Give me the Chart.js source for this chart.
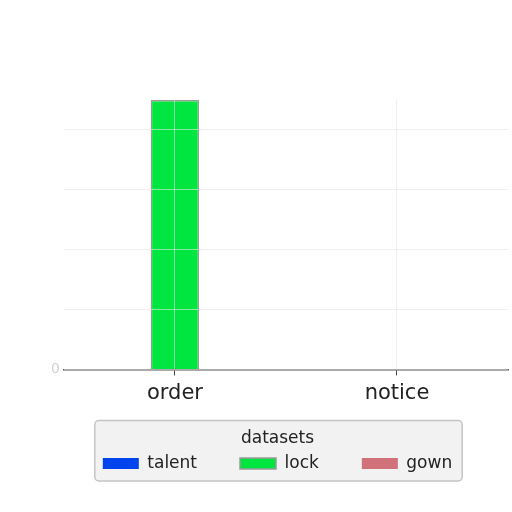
<!DOCTYPE html>
<html>
<head>
<meta charset="utf-8">
<script src="https://cdn.jsdelivr.net/npm/chart.js@4"></script>
<style>
  html, body { margin: 0; padding: 0; background: #fff; }
  #wrap { width: 512px; height: 512px; }
</style>
</head>
<body>
<div id="wrap"><canvas id="myCanvas" width="512" height="512"></canvas></div>
<script>
const categories = ["order", "notice"];
const talentValues = [0, 0];
const lockValues = [45, 0];
const gownValues = [0, 0];
const yTicks = [0, 10, 20, 30, 40];

// draws a rounded box round the legend items
const legendBox = {
  id: "legendBox",
  beforeDraw(chart) {
    const lg = chart.legend;
    if (!lg || !lg.legendHitBoxes.length) return;
    const boxes = lg.legendHitBoxes;
    const left = Math.min(...boxes.map(b => b.left)) - 8;
    const right = Math.max(...boxes.map(b => b.left + b.width)) + 10;
    const top = lg.top + 3;
    const bottom = lg.bottom - 1;
    const ctx = chart.ctx;
    ctx.save();
    ctx.fillStyle = "#f2f2f2";
    ctx.strokeStyle = "#c4c4c4";
    ctx.lineWidth = 1.5;
    ctx.beginPath();
    ctx.roundRect(left, top, right - left, bottom - top, 4);
    ctx.fill();
    ctx.stroke();
    ctx.restore();
  },
};

const ctx = document.getElementById("myCanvas").getContext("2d");

new Chart(ctx, {
  type: "bar",
  data: {
    labels: categories,
    datasets: [
      { label: "talent", data: talentValues, backgroundColor: "#0044ee", borderColor: "#0044ee", borderWidth: 0 },
      { label: "lock", data: lockValues, backgroundColor: "#00e640", borderColor: "#9a9a9a", borderWidth: 1.5 },
      { label: "gown", data: gownValues, backgroundColor: "rgba(200,80,90,0.8)", borderColor: "#c05060", borderWidth: 0 },
    ],
  },
  options: {
    responsive: false,
    animation: false,
    layout: { padding: { top: 100, left: 47, right: 4, bottom: 30 } },
    datasets: { bar: { categoryPercentage: 0.8, barPercentage: 0.82 } },
    scales: {
      x: {
        offset: true,
        grid: { offset: false, color: "rgba(228,228,228,0.6)", z: 1, drawTicks: true, tickLength: 6, tickColor: "#444" },
        border: { display: true, color: "#555", width: 1.5, z: 1 },
        ticks: { color: "#222", font: { family: "DejaVu Sans", size: 21 }, padding: 6 },
        afterFit(axis) {
          axis.height += 5;
        },
      },
      y: {
        min: 0,
        max: 45,
        afterBuildTicks(axis) {
          axis.ticks = yTicks.map(v => ({ value: v }));
        },
        grid: { color: "rgba(228,228,228,0.6)", z: 1, drawTicks: false },
        border: { display: false },
        ticks: {
          color: "#d0d0d0",
          font: { family: "DejaVu Sans", size: 14 },
          padding: 4,
          callback: v => (v === 0 ? "0" : ""),
        },
      },
    },
    plugins: {
      legend: {
        position: "bottom",
        title: { display: true, text: "datasets", color: "#222", font: { family: "DejaVu Sans", size: 17 }, padding: { top: 12, bottom: -38 } },
        labels: {
          color: "#222",
          font: { family: "DejaVu Sans", size: 17 },
          boxWidth: 36,
          boxHeight: 11,
          padding: 43,
        },
      },
      tooltip: { enabled: false },
    },
  },
  plugins: [legendBox],
});
</script>
</body>
</html>
